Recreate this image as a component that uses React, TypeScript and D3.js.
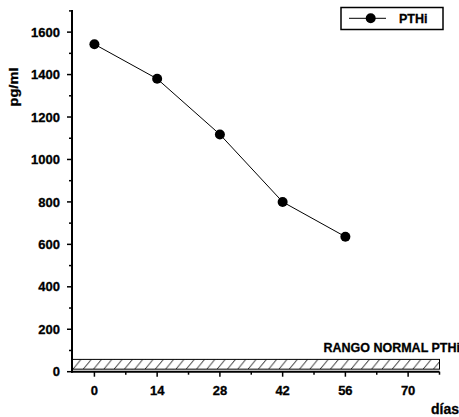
import React from "react";
import * as d3 from "d3";

const days = [0, 14, 28, 42, 56];
const pthi = [1543, 1380, 1118, 800, 636];
const yMajorTicks = [0, 200, 400, 600, 800, 1000, 1200, 1400, 1600];
const yMinorTicks = [100, 300, 500, 700, 900, 1100, 1300, 1500, 1700];
const xMajorTicks = [0, 14, 28, 42, 56, 70];
const xMinorTicks = [7, 21, 35, 49, 63, 77];
const normalRange = [12, 58];
const seriesName = "PTHi";
const rangeLabel = "RANGO NORMAL PTHi";

const W = 459;
const H = 417;
const FONT = "'Liberation Sans', Arial, sans-serif";
const TXT = { stroke: "#000", strokeWidth: 0.3 };

export default function App() {
  const x = d3.scaleLinear().domain([-5, 77]).range([72, 439.5]);
  const y = d3.scaleLinear().domain([0, 1700]).range([371.7, 10.9]);
  const line = d3
    .line<number>()
    .x((_, i) => x(days[i]))
    .y((d) => y(d));

  const x0 = x(-5);
  const x1 = x(77);
  const y0 = y(0);

  return (
    <svg
      width={W}
      height={H}
      style={{ position: "absolute", left: 0, top: 0, background: "#fff" }}
      fontFamily={FONT}
      fontWeight="bold"
    >
      <defs>
        <pattern
          id="hatch"
          patternUnits="userSpaceOnUse"
          width={10.3}
          height={y(normalRange[0]) - y(normalRange[1])}
          x={x0}
          y={y(normalRange[1])}
        >
          <line
            x1={1}
            y1={y(normalRange[0]) - y(normalRange[1])}
            x2={9}
            y2={0}
            stroke="#000"
            strokeWidth={0.9}
          />
        </pattern>
      </defs>
      <rect x={0} y={0} width={W} height={H} fill="#fff" />

      {/* normal range band */}
      <rect
        x={x0}
        y={y(normalRange[1])}
        width={x1 - x0}
        height={y(normalRange[0]) - y(normalRange[1])}
        fill="url(#hatch)"
        stroke="#000"
        strokeWidth={1}
      />
      <text x={W + 1} y={351.5} fontSize={12.5} textAnchor="end" {...TXT}>
        {rangeLabel}
      </text>

      {/* axes */}
      <line x1={x0} y1={y(1700) - 1} x2={x0} y2={y0 + 1} stroke="#000" strokeWidth={2} />
      <line x1={x0 - 1} y1={y0} x2={x1} y2={y0} stroke="#000" strokeWidth={2} />

      {yMajorTicks.map((t) => (
        <g key={"ym" + t}>
          <line x1={x0 - 5} x2={x0} y1={y(t)} y2={y(t)} stroke="#000" strokeWidth={1.5} />
          <text x={60} y={y(t)} dy="0.36em" fontSize={13} textAnchor="end" {...TXT}>
            {t}
          </text>
        </g>
      ))}
      {yMinorTicks.map((t) => (
        <line key={"yn" + t} x1={x0 - 3} x2={x0} y1={y(t)} y2={y(t)} stroke="#000" strokeWidth={1.5} />
      ))}
      {xMajorTicks.map((t) => (
        <g key={"xm" + t}>
          <line x1={x(t)} x2={x(t)} y1={y0} y2={y0 + 5} stroke="#000" strokeWidth={1.5} />
          <text x={x(t)} y={394.5} fontSize={13} textAnchor="middle" {...TXT}>
            {t}
          </text>
        </g>
      ))}
      {xMinorTicks.map((t) => (
        <line key={"xn" + t} x1={x(t)} x2={x(t)} y1={y0} y2={y0 + 3} stroke="#000" strokeWidth={1.5} />
      ))}

      {/* axis titles */}
      <text
        transform={`translate(18,87) rotate(-90)`}
        fontSize={12}
        textAnchor="middle"
        textLength={39}
        lengthAdjust="spacingAndGlyphs"
        {...TXT}
      >
        pg/ml
      </text>
      <text x={431} y={414} fontSize={14} {...TXT}>
        días
      </text>

      {/* series */}
      <path d={line(pthi) || ""} fill="none" stroke="#000" strokeWidth={1} />
      {pthi.map((v, i) => (
        <circle key={i} cx={x(days[i])} cy={y(v)} r={5} fill="#000" />
      ))}

      {/* legend */}
      <rect x={341} y={7.5} width={102} height={22} fill="#fff" stroke="#000" strokeWidth={1.5} />
      <line x1={349} x2={386} y1={18.3} y2={18.3} stroke="#000" strokeWidth={1} />
      <circle cx={370.7} cy={18.3} r={5} fill="#000" />
      <text x={399} y={22.8} fontSize={12.5} {...TXT}>
        {seriesName}
      </text>
    </svg>
  );
}
